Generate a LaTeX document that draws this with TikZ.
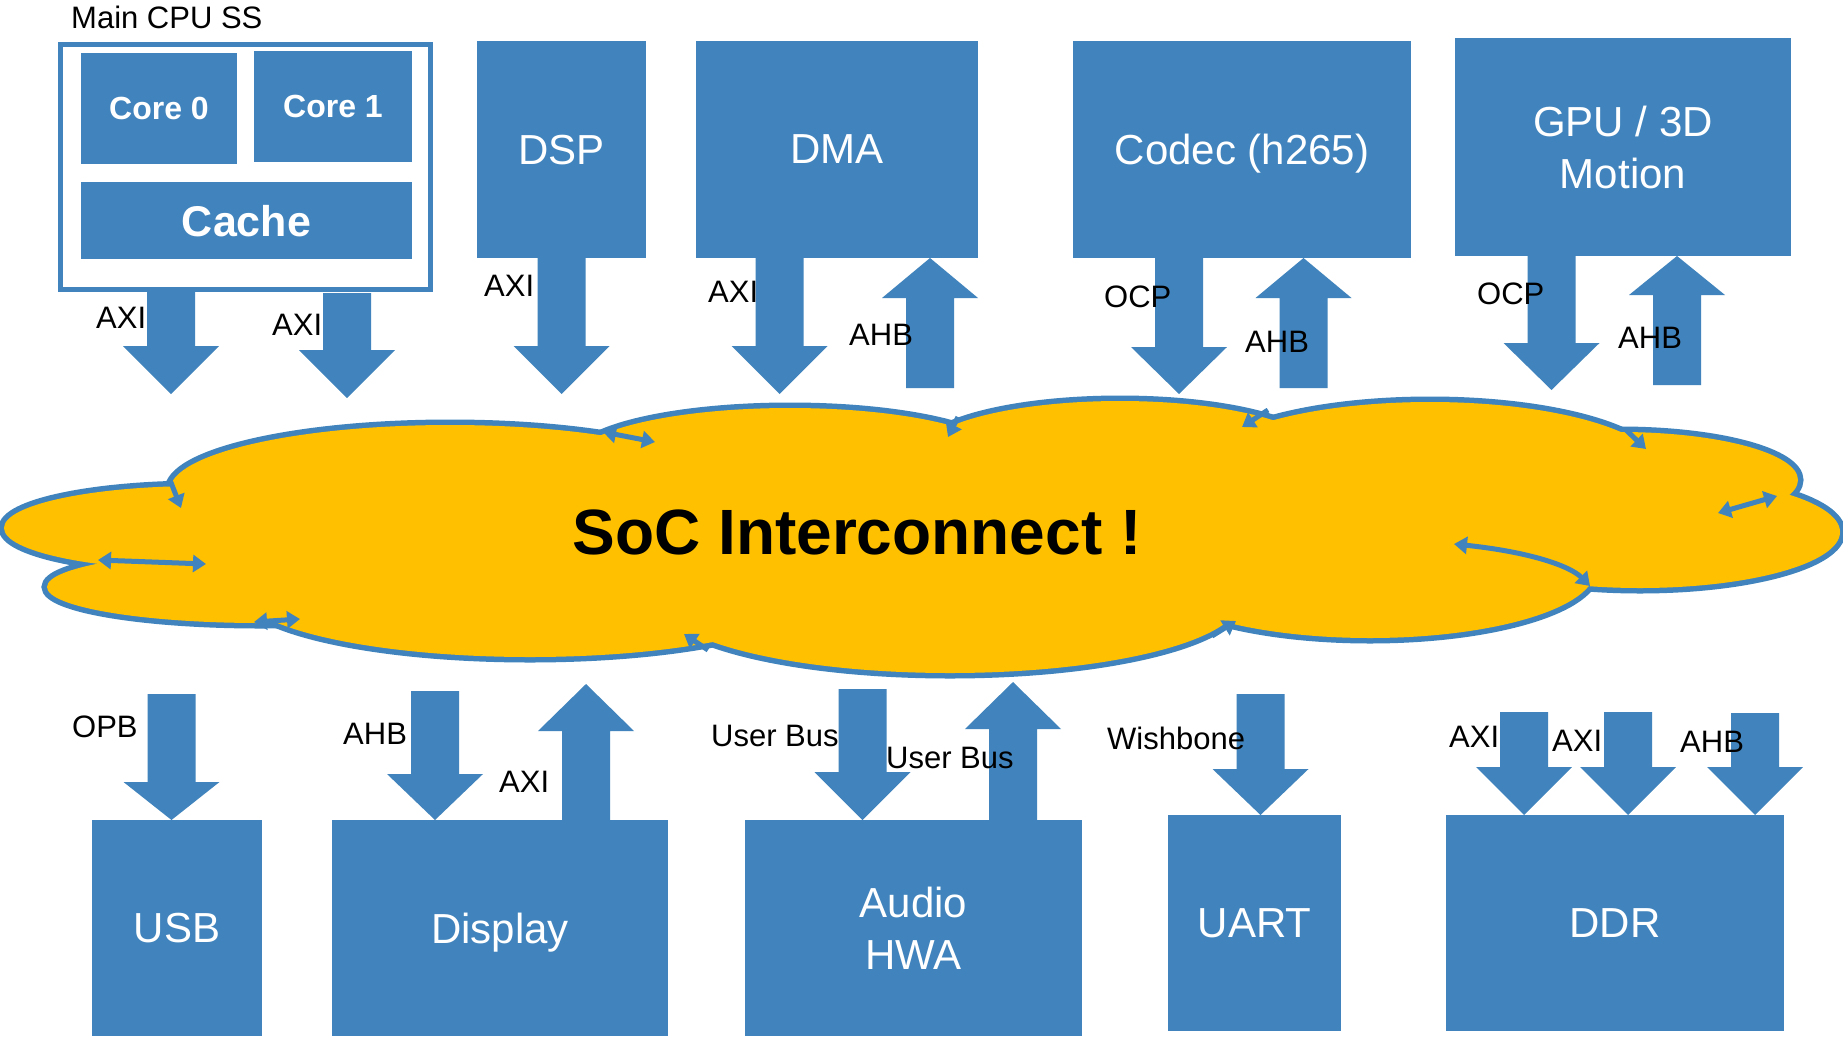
\documentclass[tikz,border=0pt]{standalone}
\usepackage{fontspec}
\setmainfont{Liberation Sans}
\usetikzlibrary{arrows.meta}

\definecolor{socblue}{RGB}{65,132,189}
\definecolor{socyellow}{RGB}{255,192,0}

\tikzset{
    ipblock/.style={fill=socblue, inner sep=0pt, text=white, align=center,
        text depth=0pt, font=\fontsize{42}{52}\selectfont},
    corebox/.style={ipblock, font=\bfseries\fontsize{32}{38}\selectfont},
    cachebox/.style={ipblock, font=\bfseries\fontsize{43}{50}\selectfont},
    buslabel/.style={anchor=base west, inner sep=0pt, font=\fontsize{31}{36}\selectfont},
    cloudline/.style={socblue, line width=5pt},
    bustip/.tip={Triangle[length=13pt, width=17pt]}
}

% box given by its corners
\newcommand{\hwbox}[7][]{%
    \pgfmathsetmacro{\boxw}{#5-#3}%
    \pgfmathsetmacro{\boxh}{#6-#4}%
    \node[ipblock, minimum width=\boxw pt, minimum height=\boxh pt, #1] (#2) at ({(#3+#5)/2},{(#4+#6)/2}) {#7};%
}

\begin{document}
\begin{tikzpicture}[x=1pt, y=-1pt]
    \fill[white] (0,0) rectangle (1843,1039);
    \useasboundingbox (0,0) rectangle (1843,1039);

    % Interconnect cloud
    \foreach \cx/\cy/\rx/\ry in {200/528/196/42, 260/587/213/36, 450/490/280/65, 790/460/215/52,
            1120/455/200/54, 1430/470/230/68, 1620/480/178/48, 1640/532/200/56,
            1370/570/225/68, 950/600/290/73, 530/590/290/67}
        \draw[socblue, line width=11pt] (\cx,\cy) ellipse ({\rx pt} and {\ry pt});
    \foreach \cx/\cy/\rx/\ry in {200/528/196/42, 260/587/213/36, 450/490/280/65, 790/460/215/52,
            1120/455/200/54, 1430/470/230/68, 1620/480/178/48, 1640/532/200/56,
            1370/570/225/68, 950/600/290/73, 530/590/290/67, 920/530/700/100}
        \fill[socyellow] (\cx,\cy) ellipse ({\rx pt} and {\ry pt});

    % arrow ends left on the outline
    \draw[cloudline, bustip-bustip] (603,432) -- (655,442);
    \draw[cloudline, -bustip] (170,480) -- (181,508);
    \draw[cloudline, bustip-bustip] (98,560) -- (206,564);
    \draw[cloudline, bustip-bustip] (254,622) -- (300,619);
    \draw[cloudline, -bustip] (708,650) -- (684,634);
    \draw[cloudline, -bustip] (958,417) -- (948,437);
    \draw[cloudline, -bustip] (1268,410) -- (1242,427);
    \draw[cloudline, -bustip] (1626,430) -- (1646,449);
    \draw[cloudline, bustip-bustip] (1718,513) -- (1777,496);
    \draw[cloudline, bustip-bustip] (1454,544) .. controls (1530,552) and (1570,566) .. (1590,586);
    \draw[cloudline, -bustip] (1212,636) -- (1236,621);

    \node[font=\bfseries\fontsize{64}{70}\selectfont, anchor=base, inner sep=0pt] (noc) at (857,554) {SoC Interconnect !};

    % Main CPU SS
    \node[draw=socblue, line width=5pt, fill=white, inner sep=0pt,
        minimum width=370pt, minimum height=245pt] (cpuss) at (245.5,167) {};
    \node[buslabel] (cpulbl) at (71,28) {Main CPU SS};
    \hwbox[corebox]{core0}{81}{53}{237}{164}{Core 0}
    \hwbox[corebox]{core1}{254}{51}{412}{162}{Core 1}
    \hwbox[cachebox]{cache}{81}{182}{412}{259}{Cache}

    % IP blocks
    \hwbox{dsp}{477}{41}{646}{258}{DSP}
    \hwbox{dma}{696}{41}{978}{258}{DMA}
    \hwbox{codec}{1073}{41}{1411}{258}{Codec (h265)}
    \hwbox{gpu}{1455}{38}{1791}{256}{GPU / 3D\\Motion}
    \hwbox{usb}{92}{820}{262}{1036}{USB}
    \hwbox{display}{332}{820}{668}{1036}{Display}
    \hwbox{audio}{745}{820}{1082}{1036}{Audio\\HWA}
    \hwbox{uart}{1168}{815}{1341}{1031}{UART}
    \hwbox{ddr}{1446}{815}{1784}{1031}{DDR}

    % Bus arrows: centre x / start y / head y / tip y
    \foreach \cx/\ya/\yh/\yt in {171/291/346/394, 347/293/350/398, 561.5/258/346/394,
            779.5/258/346/394, 1179/258/347/394, 1551.5/256/343/390,
            930/388/298/258, 1303.5/388/298/258, 1677/385/295/256,
            171.5/694/782/820, 435/691/774/820, 862.5/689/772/820, 1260.5/694/769/815,
            1524/712/767/815, 1628/712/767/815, 1755/713/767/815,
            586/820/731/684, 1013/820/729/682}
        \fill[socblue] ({\cx-24},\ya) -- ({\cx+24},\ya) -- ({\cx+24},\yh) -- ({\cx+48},\yh)
            -- (\cx,\yt) -- ({\cx-48},\yh) -- ({\cx-24},\yh) -- cycle;

    % Bus names
    \foreach \n/\x/\y/\t in {a/96/328/AXI, b/272/335/AXI, c/484/296/AXI, d/708/302/AXI,
            e/849/345/AHB, f/1104/307/OCP, g/1245/352/AHB, h/1477/304/OCP, i/1618/348/AHB,
            j/72/737/OPB, k/343/744/AHB, l/499/792/AXI, m/711/746/User Bus,
            n/886/768/User Bus, o/1107/749/Wishbone, p/1449/747/AXI, q/1552/751/AXI,
            r/1680/752/AHB}
        \node[buslabel] (bus\n) at (\x,\y) {\t};
\end{tikzpicture}
\end{document}
